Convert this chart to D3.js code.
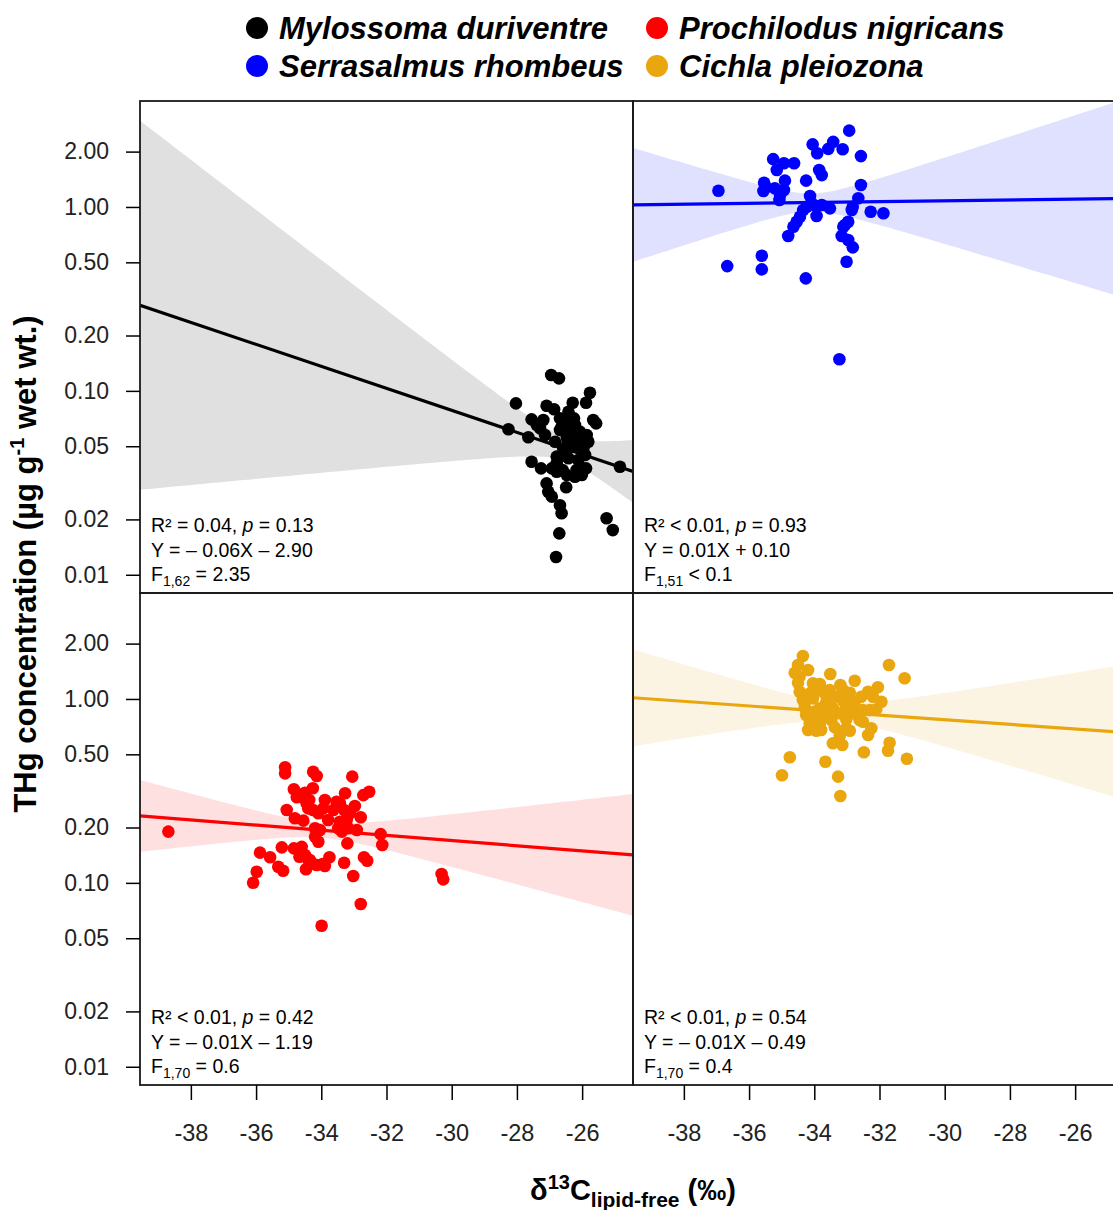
<!DOCTYPE html>
<html>
<head>
<meta charset="utf-8">
<script src="https://cdn.jsdelivr.net/npm/d3@7"></script>
<style>
  body { margin: 0; background: #fff; }
  text { font-family: "Liberation Sans", Arial, Helvetica, sans-serif; }
</style>
</head>
<body>
<svg id="chart" width="1113" height="1210"></svg>
<script>
// ---- data -------------------------------------------------------------
const species = ["Mylossoma duriventre", "Serrasalmus rhombeus", "Prochilodus nigricans", "Cichla pleiozona"];
const colors  = ["#000000", "#0000FF", "#FF0000", "#E9A60F"];

// δ13C (lipid-free, ‰) and THg (µg/g wet wt.) per fish
const mylossomaD13C = [-26.95,-26.71,-25.76,-28.03,-25.88,-26.29,-27.09,-26.86,-27.55,-27.19,-26.42,-25.66,-25.57,-28.26,-27.29,-27.65,-26.63,-26.22,-26.07,-25.86,-25.81,-26.83,-26.47,-26.32,-26.68,-26.37,-24.84,-27.55,-27.26,-26.78,-26.68,-26.42,-26.12,-25.91,-25.88,-26.01,-26.78,-26.47,-27.09,-26.49,-27.04,-26.93,-26.68,-26.63,-25.25,-25.06,-26.70,-26.80,-26.12,-26.58,-26.17,-26.78,-25.96,-26.68,-26.93,-26.39,-26.07,-26.22,-27.14,-27.39,-26.25,-26.60,-26.17,-26.45];
const mylossomaTHg  = [0.122,0.117,0.0977,0.0855,0.0862,0.0862,0.0830,0.0794,0.0700,0.0694,0.0770,0.0694,0.0666,0.0618,0.0626,0.0559,0.0638,0.0652,0.0600,0.0575,0.0529,0.0529,0.0563,0.0497,0.0709,0.0694,0.0387,0.0412,0.0379,0.0404,0.0439,0.0430,0.0421,0.0448,0.0379,0.0349,0.0363,0.0349,0.0314,0.0299,0.0283,0.0266,0.0239,0.0216,0.0203,0.0175,0.0168,0.0125,0.0508,0.0487,0.0552,0.0439,0.0487,0.0613,0.0379,0.0607,0.0387,0.0341,0.0575,0.0652,0.0709,0.0371,0.0371,0.0540];

const serrasalmusD13C = [-32.93,-34.05,-33.42,-33.57,-33.91,-33.13,-32.57,-35.26,-34.93,-34.62,-35.15,-33.85,-33.77,-34.25,-34.90,-35.54,-32.57,-36.94,-35.56,-35.21,-34.93,-35.05,-34.13,-32.65,-34.08,-33.77,-33.52,-32.82,-34.34,-32.27,-31.88,-33.93,-34.44,-34.54,-32.96,-34.64,-33.11,-34.80,-33.16,-32.96,-32.82,-35.61,-33.01,-36.67,-35.61,-34.26,-33.23,-35.07,-34.23,-33.95,-32.85,-35.48,-33.06];
const serrasalmusTHg  = [2.60,2.19,2.26,2.07,1.96,2.06,1.89,1.82,1.73,1.73,1.59,1.59,1.49,1.39,1.39,1.355,1.316,1.226,1.221,1.263,1.236,1.162,1.147,1.115,1.047,1.025,0.983,1.003,0.963,0.942,0.924,0.893,0.885,0.831,0.831,0.781,0.781,0.695,0.695,0.661,0.603,0.543,0.504,0.477,0.458,0.409,0.1485,1.091,1.003,1.012,0.963,1.279,0.798];

const prochilodusD13C = [-35.11,-35.11,-34.25,-34.14,-33.05,-32.53,-32.71,-34.84,-34.50,-34.26,-34.75,-34.37,-33.89,-33.27,-33.43,-32.97,-35.06,-34.25,-33.63,-33.30,-34.81,-34.55,-34.09,-33.79,-33.22,-32.79,-34.19,-33.48,-33.17,-32.91,-32.18,-38.69,-34.19,-34.09,-33.20,-32.13,-35.21,-34.84,-34.60,-35.88,-35.57,-34.50,-34.35,-33.75,-33.96,-33.30,-32.69,-32.59,-35.32,-35.17,-34.47,-33.89,-33.02,-35.98,-36.09,-30.31,-30.26,-32.79,-33.99,-34.26,-34.67,-34.40,-33.53,-34.04,-34.45,-33.94,-33.43,-33.12,-34.65,-34.40,-34.14,-33.37];
const prochilodusTHg  = [0.425,0.394,0.402,0.381,0.378,0.313,0.300,0.323,0.309,0.327,0.292,0.282,0.282,0.307,0.271,0.262,0.249,0.249,0.249,0.249,0.2244,0.218,0.239,0.2197,0.2197,0.2273,0.198,0.198,0.198,0.194,0.184,0.190,0.178,0.1674,0.164,0.1606,0.156,0.154,0.157,0.146,0.1377,0.1417,0.1331,0.1377,0.1266,0.1287,0.1377,0.132,0.1224,0.1164,0.1185,0.1235,0.109,0.115,0.1002,0.1117,0.1045,0.0767,0.0585,0.1266,0.1388,0.254,0.276,0.194,0.271,0.254,0.215,0.239,0.294,0.1331,0.125,0.190];

const cichlaD13C = [-34.35,-34.50,-34.19,-34.60,-31.71,-31.23,-33.51,-34.50,-34.04,-33.83,-33.20,-32.76,-32.05,-32.35,-34.45,-33.68,-32.91,-32.56,-34.35,-34.04,-33.63,-33.12,-31.94,-32.10,-34.29,-33.83,-33.43,-32.87,-32.51,-33.22,-33.68,-34.04,-33.48,-33.02,-32.61,-34.14,-33.83,-33.37,-32.51,-34.19,-33.94,-32.91,-32.25,-32.35,-33.22,-33.43,-33.14,-31.69,-31.74,-32.48,-31.16,-34.75,-33.66,-34.99,-33.27,-33.20,-34.25,-33.58,-33.02,-34.45,-33.89,-33.33,-32.76,-33.99,-33.79,-33.02,-32.20,-32.30,-33.12,-33.53,-32.81,-34.14];
const cichlaTHg  = [1.712,1.530,1.437,1.389,1.530,1.295,1.367,1.226,1.217,1.206,1.191,1.257,1.157,1.095,1.095,1.073,1.081,1.029,0.987,1.008,0.966,0.978,0.966,0.878,0.901,0.890,0.890,0.908,0.871,0.836,0.801,0.801,0.768,0.775,0.768,0.737,0.731,0.701,0.752,0.678,0.672,0.672,0.693,0.637,0.629,0.574,0.562,0.578,0.523,0.513,0.473,0.482,0.456,0.3846,0.378,0.297,0.818,0.871,0.908,1.322,1.119,1.029,0.966,0.852,0.678,0.693,1.029,0.871,1.119,1.119,0.836,1.073];

// fitted log10(THg) = intercept + slope * δ13C, with 95% confidence band
const fitSlope     = [-0.0598, 0.0023, -0.01403, -0.0125];
const fitIntercept = [-2.90, 0.1024, -1.191, -0.488];
const ciCentre     = [-26.5, -34.1, -34.0, -33.3];   // mean δ13C of each sample
const ciBase       = [0.0653, 0.049, 0.0408, 0.0517]; // half-width at the mean (log10 units)
const ciSpread     = [0.0767, 0.056, 0.0344, 0.0413]; // growth of half-width per ‰

// regression statistics
const r2Text  = ["R² = 0.04", "R² < 0.01", "R² < 0.01", "R² < 0.01"];
const pText   = ["0.13", "0.93", "0.42", "0.54"];
const eqText  = ["Y = – 0.06X – 2.90", "Y = 0.01X + 0.10", "Y = – 0.01X – 1.19", "Y = – 0.01X – 0.49"];
const fDf     = ["1,62", "1,51", "1,70", "1,70"];
const fText   = [" = 2.35", " < 0.1", " = 0.6", " = 0.4"];

const xTicks = [-38, -36, -34, -32, -30, -28, -26];
const yTicks = [0.01, 0.02, 0.05, 0.1, 0.2, 0.5, 1, 2];
const xDomain = [-39.56, -24.44];
const yDomain = [Math.pow(10, -2.0991), Math.pow(10, 0.5762)];

// panel order: top-left, top-right, bottom-left, bottom-right
const panelSpecies = [0, 1, 2, 3];
const panelData = [
  [mylossomaD13C, mylossomaTHg],
  [serrasalmusD13C, serrasalmusTHg],
  [prochilodusD13C, prochilodusTHg],
  [cichlaD13C, cichlaTHg]
];

// ---- layout ----------------------------------------------------------
const svg = d3.select("#chart");
const PW = 493, PH = 492;
const panelPos = [[140, 101], [633, 101], [140, 593], [633, 593]];

const x = d3.scaleLinear().domain(xDomain).range([0, PW]);
const y = d3.scaleLog().domain(yDomain).range([PH, 0]);

svg.append("rect").attr("width", 1113).attr("height", 1210).attr("fill", "#fff");

const defs = svg.append("defs");
defs.append("clipPath").attr("id", "panel-clip")
  .append("rect").attr("width", PW).attr("height", PH);

panelPos.forEach(([px, py], i) => {
  const s = panelSpecies[i];
  const col = colors[s];
  const [xs, ys] = panelData[i];
  const g = svg.append("g").attr("transform", `translate(${px},${py})`);
  const inner = g.append("g").attr("clip-path", "url(#panel-clip)");

  // confidence band
  const grid = d3.range(0, 101).map(k => xDomain[0] + (xDomain[1] - xDomain[0]) * k / 100);
  const band = grid.map(xv => {
    const c = fitIntercept[i] + fitSlope[i] * xv;
    const h = Math.sqrt(ciBase[i] ** 2 + (ciSpread[i] * (xv - ciCentre[i])) ** 2);
    return { xv, lo: Math.pow(10, c - h), hi: Math.pow(10, c + h) };
  });
  inner.append("path")
    .datum(band)
    .attr("fill", col)
    .attr("fill-opacity", 0.12)
    .attr("d", d3.area().x(d => x(d.xv)).y0(d => y(d.lo)).y1(d => y(d.hi)));

  // regression line
  inner.append("path")
    .datum(xDomain)
    .attr("fill", "none")
    .attr("stroke", col)
    .attr("stroke-width", 3.2)
    .attr("d", d3.line().x(d => x(d)).y(d => y(Math.pow(10, fitIntercept[i] + fitSlope[i] * d))));

  // fish
  inner.selectAll("circle")
    .data(xs.map((v, k) => [v, ys[k]]))
    .join("circle")
    .attr("cx", d => x(d[0]))
    .attr("cy", d => y(d[1]))
    .attr("r", 6.3)
    .attr("fill", col);

  // statistics
  const st = g.append("g").attr("transform", "translate(11,0)").attr("font-size", 19.5).attr("fill", "#000");
  const t1 = st.append("text").attr("y", 431);
  t1.append("tspan").text(r2Text[i] + ", ");
  t1.append("tspan").attr("font-style", "italic").text("p");
  t1.append("tspan").text(" = " + pText[i]);
  st.append("text").attr("y", 455.5).text(eqText[i]);
  const t3 = st.append("text").attr("y", 480);
  t3.append("tspan").text("F");
  t3.append("tspan").attr("font-size", 14).attr("dy", 5).text(fDf[i]);
  t3.append("tspan").attr("dy", -5).text(fText[i]);

  // frame
  g.append("rect").attr("width", PW).attr("height", PH)
    .attr("fill", "none").attr("stroke", "#1a1a1a").attr("stroke-width", 1.8);

  // axes
  if (i % 2 === 0) {
    const ya = g.append("g").call(d3.axisLeft(y).tickValues(yTicks).tickFormat(d3.format(".2f")).tickSize(14).tickPadding(17));
    ya.select(".domain").remove();
    ya.selectAll("line").attr("stroke", "#000").attr("stroke-width", 1.5);
    ya.selectAll("text").attr("font-size", 23).attr("fill", "#222").attr("font-family", '"Liberation Sans", Arial, sans-serif');
  }
  if (i >= 2) {
    const xa = g.append("g").attr("transform", `translate(0,${PH})`)
      .call(d3.axisBottom(x).tickValues(xTicks).tickFormat(d => String(d)).tickSize(15).tickPadding(24));
    xa.select(".domain").remove();
    xa.selectAll("line").attr("stroke", "#000").attr("stroke-width", 1.5);
    xa.selectAll("text").attr("font-size", 23.5).attr("fill", "#222").attr("font-family", '"Liberation Sans", Arial, sans-serif');
  }
});

// ---- axis titles -----------------------------------------------------
const yt = svg.append("text")
  .attr("transform", "translate(36,564) rotate(-90)")
  .attr("text-anchor", "middle")
  .attr("font-size", 31)
  .attr("font-weight", "bold");
yt.append("tspan").text("THg concentration (µg g");
yt.append("tspan").attr("font-size", 20).attr("dy", -12).text("-1");
yt.append("tspan").attr("dy", 12).text(" wet wt.)");

const xt = svg.append("text")
  .attr("x", 633).attr("y", 1200)
  .attr("text-anchor", "middle")
  .attr("font-size", 29)
  .attr("font-weight", "bold");
xt.append("tspan").text("δ");
xt.append("tspan").attr("font-size", 20).attr("dy", -11).text("13");
xt.append("tspan").attr("dy", 11).text("C");
xt.append("tspan").attr("font-size", 21).attr("dy", 7).text("lipid-free");
xt.append("tspan").attr("dy", -7).text(" (‰)");

// ---- legend ----------------------------------------------------------
const legendOrder = [0, 2, 1, 3];
const legendPos = [[257, 28], [657, 28], [257, 66], [657, 66]];
legendOrder.forEach((s, k) => {
  const [lx, ly] = legendPos[k];
  const lg = svg.append("g").attr("transform", `translate(${lx},${ly})`);
  lg.append("circle").attr("r", 11).attr("fill", colors[s]);
  lg.append("text").attr("x", 22).attr("y", 11)
    .attr("font-size", 31).attr("font-weight", "bold").attr("font-style", "italic")
    .text(species[s]);
});
</script>
</body>
</html>
